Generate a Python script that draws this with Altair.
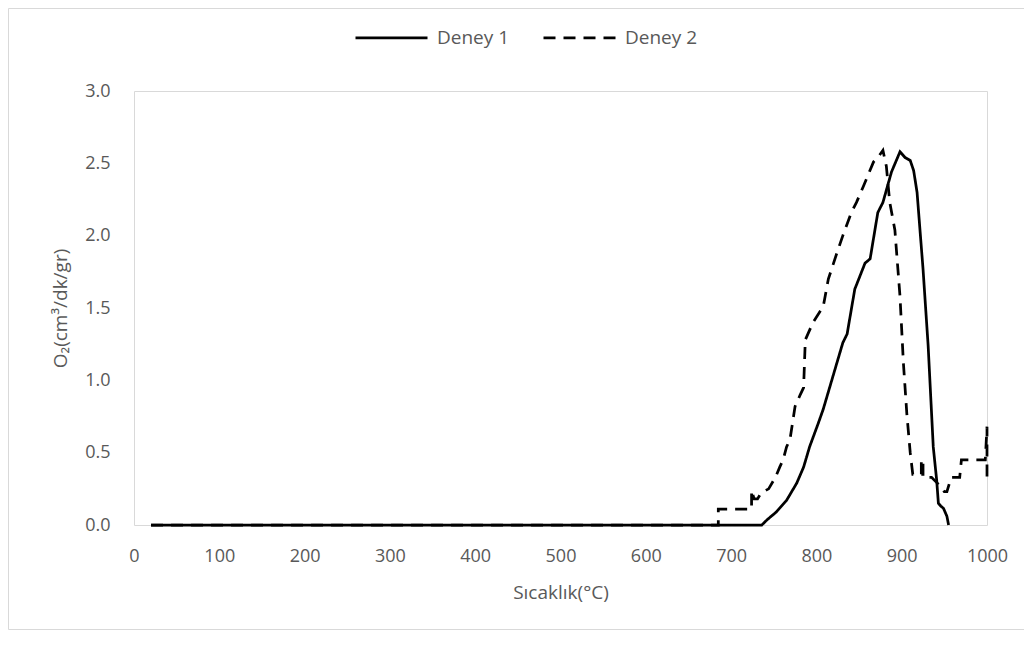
import altair as alt
import pandas as pd

# Deney 1 (solid)
t1 = [20, 736, 742, 753, 765, 777, 785, 792, 802, 808, 816, 824, 831, 836, 845, 857, 863,
      872, 878, 888, 898, 904, 910, 914, 918, 925, 931, 937, 941, 943, 946, 949, 953, 955]
o1 = [0, 0, 0.035, 0.09, 0.17, 0.29, 0.40, 0.54, 0.70, 0.80, 0.96, 1.12, 1.26, 1.32, 1.63, 1.81, 1.84,
      2.16, 2.23, 2.44, 2.58, 2.54, 2.52, 2.45, 2.30, 1.77, 1.24, 0.54, 0.31, 0.15, 0.13, 0.115, 0.06, 0]

# Deney 2 (dashed)
t2 = [20, 685, 685, 724, 724, 727, 731, 735, 744, 752, 757, 761, 765, 769, 775, 781, 785, 787,
      796, 808, 814, 824, 831, 841, 847, 855, 867, 872, 878, 882, 886, 892, 898, 902, 906, 910,
      913, 923, 923, 925, 925, 935, 945, 950, 953, 958, 968, 970, 998, 1000, 1000]
o2 = [0, 0, 0.11, 0.11, 0.24, 0.18, 0.18, 0.22, 0.25, 0.33, 0.40, 0.45, 0.54, 0.59, 0.82, 0.90, 0.95, 1.28,
      1.40, 1.51, 1.70, 1.88, 2.00, 2.16, 2.23, 2.34, 2.51, 2.54, 2.59, 2.48, 2.23, 2.04, 1.58, 1.12, 0.77, 0.50,
      0.35, 0.35, 0.45, 0.45, 0.33, 0.33, 0.27, 0.23, 0.23, 0.33, 0.33, 0.45, 0.45, 0.68, 0.33]

series = ["Deney 1", "Deney 2"]
x_ticks = [0, 100, 200, 300, 400, 500, 600, 700, 800, 900, 1000]
y_ticks = [0, 0.5, 1.0, 1.5, 2.0, 2.5, 3.0]

rows = []
for i, (t, o) in enumerate(zip(t1, o1)):
    rows.append({"T": t, "O2": o, "s": series[0], "i": i})
for i, (t, o) in enumerate(zip(t2, o2)):
    rows.append({"T": t, "O2": o, "s": series[1], "i": i})
df = pd.DataFrame(rows)

grey = "#595959"
font = "Open Sans"

lines = alt.Chart(df).mark_line(color="black", strokeWidth=2.75).encode(
    x=alt.X("T:Q", scale=alt.Scale(domain=[0, 1000], nice=False),
            axis=alt.Axis(values=x_ticks, format="d", title="Sıcaklık(°C)", labelPadding=22,
                          labelFlush=False, titlePadding=18)),
    y=alt.Y("O2:Q", scale=alt.Scale(domain=[0, 3], nice=False),
            axis=alt.Axis(values=y_ticks, format=".1f", title="O₂(cm³/dk/gr)",
                          labelPadding=24, titlePadding=14)),
    strokeDash=alt.StrokeDash("s:N", scale=alt.Scale(domain=series, range=[[1, 0], [12, 8]]),
                              legend=alt.Legend(title=None, orient="none", legendX=220, legendY=-91,
                                                direction="horizontal", symbolType="stroke",
                                                symbolSize=5184, symbolStrokeWidth=2.75,
                                                symbolStrokeColor="black", labelOffset=8,
                                                columnPadding=28, labelFontSize=19,
                                                labelColor=grey, labelFont=font)),
    order="i:Q",
)

border = alt.Chart(pd.DataFrame({"a": [0]})).mark_rect(
    fill="transparent", stroke="#d9d9d9", strokeWidth=1
).encode(
    x=alt.value(-125.5), x2=alt.value(920), y=alt.value(-82.5), y2=alt.value(538.5)
)

chart = alt.layer(border, lines).properties(
    width=853, height=434,
    autosize=alt.AutoSizeParams(type="none"),
    padding={"left": 126, "top": 83, "right": 37, "bottom": 105},
).configure_view(stroke="#d9d9d9", strokeWidth=1).configure_axis(
    domain=False, grid=False, ticks=False, tickSize=0,
    labelColor=grey, labelFont=font, labelFontSize=18,
    titleColor=grey, titleFont=font, titleFontSize=19, titleFontWeight="normal",
)

chart.save("out.html", embed_options={"renderer": "svg", "actions": False})
